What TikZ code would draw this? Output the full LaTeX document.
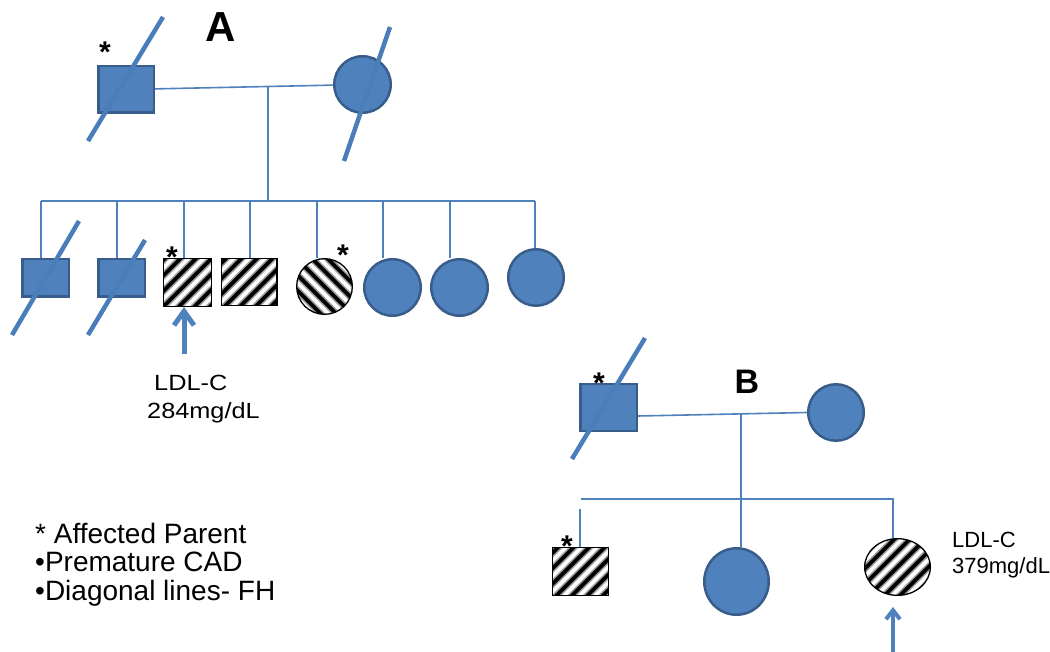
\documentclass[tikz,border=0pt]{standalone}
\usepackage{fontspec}
\setmainfont{Liberation Sans}
\usetikzlibrary{shapes.geometric,arrows.meta}

\definecolor{pedfill}{HTML}{4F81BD}
\definecolor{pededge}{HTML}{385D8A}
\definecolor{pedline}{HTML}{4F81BD}
\definecolor{strikeblue}{HTML}{4A7EBB}

\tikzset{
  sq/.style 2 args={rectangle, minimum width=#1pt, minimum height=#2pt},
  ov/.style 2 args={ellipse, minimum width=#1pt, minimum height=#2pt},
  solidperson/.style={fill=pedfill, draw=pededge, line width=2.5pt, inner sep=0pt},
  hatchbase/.style={fill=white, draw=black, line width=1.3pt, inner sep=0pt},
  % stripes rising to the right
  hatchup/.style={hatchbase, path picture={
      \foreach \k in {-6,...,6}{
        \draw[black!40, line width=7pt]
          ([xshift=\k*15.5pt]path picture bounding box.center) ++(-70pt,-70pt) -- ++(140pt,140pt);
        \draw[black, line width=3.8pt]
          ([xshift=\k*15.5pt]path picture bounding box.center) ++(-70pt,-70pt) -- ++(140pt,140pt);
      }}},
  % stripes falling to the right
  hatchdown/.style={hatchbase, path picture={
      \foreach \k in {-6,...,6}{
        \draw[black!40, line width=7pt]
          ([xshift=\k*15.5pt]path picture bounding box.center) ++(-70pt,70pt) -- ++(140pt,-140pt);
        \draw[black, line width=3.8pt]
          ([xshift=\k*15.5pt]path picture bounding box.center) ++(-70pt,70pt) -- ++(140pt,-140pt);
      }}},
  kin/.style={draw=pedline, line width=1.6pt},
  deceased/.style={draw=strikeblue, line width=4.5pt},
  probandA/.style={draw=pedline, line width=5pt, -{Straight Barb[length=14pt,width=20pt]}},
  probandB/.style={draw=pedline, line width=4pt, -{Straight Barb[length=9pt,width=14pt]}},
  star/.style={font=\fontsize{30}{30}\selectfont\bfseries, anchor=base, inner sep=0pt},
  lbl/.style={font=\fontsize{22}{24}\selectfont, anchor=base west, inner sep=0pt},
  legend/.style={font=\fontsize{28}{30}\selectfont, anchor=base west, inner sep=0pt},
}

\begin{document}
\begin{tikzpicture}[x=1pt,y=-1pt]
\useasboundingbox (0,0) rectangle (1050,652);
\fill[white] (0,0) rectangle (1050,652);

% ---------- Family A ----------
\node[font=\fontsize{42}{42}\selectfont\bfseries, anchor=base, inner sep=0pt] (titleA) at (221,42) {A};

\node[solidperson, sq={55.5}{46.5}] (aFather) at (126,89.5) {};
\node[solidperson, ov={56.5}{56.5}] (aMother) at (362.5,84.5) {};

\node[solidperson, sq={46.5}{37.5}] (a1) at (45.5,278) {};
\node[solidperson, sq={46.5}{37.5}] (a2) at (121.5,278) {};
\node[hatchup, sq={47.7}{47.7}] (a3) at (187.5,282.5) {};
\node[hatchup, sq={55.7}{46.7}] (a4) at (249,282) {};
\node[hatchdown, ov={55.7}{55.7}] (a5) at (324.5,286.5) {};
\node[solidperson, ov={56.5}{56.5}] (a6) at (392.5,287.5) {};
\node[solidperson, ov={56.5}{56.5}] (a7) at (459.5,287.5) {};
\node[solidperson, ov={55.5}{56.5}] (a8) at (536,277.5) {};

% marriage, descent and sibship lines
\draw[kin] (aFather) -- (aMother);
\coordinate (aJoin) at (268,86.5);
\coordinate (aSibL) at (41,201);
\coordinate (aSibR) at (535,201);
\draw[kin] (aJoin) -- (aJoin |- aSibL);
\draw[kin] (aSibL) -- (aSibR);
\foreach \n/\x in {a1/41, a2/117, a3/184, a4/250, a5/317, a6/383, a7/450, a8/535}
  \draw[kin] (\x,201) -- (\x,201 |- \n.north);

% deceased marks
\draw[deceased] (88,141) -- (163,17);
\draw[deceased] (344,161) -- (390,27);
\draw[deceased] (12,335) -- (79,221);
\draw[deceased] (88,335) -- (145,240);

% affected parent marks
\node[star] (aStarF) at (105,63) {*};
\node[star] (aStar3) at (172,268) {*};
\node[star] (aStar5) at (343,266) {*};

% proband arrow and LDL-C value
\coordinate (aArrowTail) at (184,354);
\draw[probandA] (aArrowTail) -- (aArrowTail |- a3.south);
\node[lbl] (aLdl1) at (154,390) {\scalebox{1.15}[1]{LDL-C}};
\node[lbl] (aLdl2) at (147,418) {\scalebox{1.15}[1]{284mg/dL}};

% ---------- Family B ----------
\node[font=\fontsize{34}{34}\selectfont\bfseries, anchor=base, inner sep=0pt] (titleB) at (747,393) {B};

\node[solidperson, sq={56.5}{46.5}] (bFather) at (608.5,407.5) {};
\node[solidperson, ov={55.5}{56.5}] (bMother) at (836,412.5) {};

\node[hatchup, sq={55.7}{47.7}] (b1) at (580.5,571.5) {};
\node[solidperson, ov={64.5}{66.5}] (b2) at (736.5,581.5) {};
\node[hatchup, ov={65.7}{56.7}] (b3) at (897.5,567) {};

\draw[kin] ([yshift=-8.5pt]bFather.east) -- (bMother.west);
\coordinate (bJoin) at (741,413);
\draw[kin] (bJoin) -- (bJoin |- b2.north);
\coordinate (bSibL) at (581,499);
\coordinate (bSibR) at (893,499);
\draw[kin] (bSibL) -- (bSibR) -- (bSibR |- b3.north);
\coordinate (bDrop) at (580,509);
\draw[kin] (bDrop) -- (bDrop |- b1.north);

\draw[deceased] (572,459) -- (645,338);

\node[star] (bStarF) at (599,394) {*};
\node[star] (bStar1) at (567,556) {*};

\coordinate (bArrowTail) at (893,652);
\draw[probandB, shorten >=11pt] (bArrowTail) -- (bArrowTail |- b3.south);
\node[lbl] (bLdl1) at (952,547) {LDL-C};
\node[lbl] (bLdl2) at (952,573) {379mg/dL};

% ---------- Legend ----------
\node[legend] (leg1) at (35,543) {* Affected Parent};
\node[legend] (leg2) at (35,571) {•Premature CAD};
\node[legend] (leg3) at (35,600) {•Diagonal lines- FH};
\end{tikzpicture}
\end{document}
